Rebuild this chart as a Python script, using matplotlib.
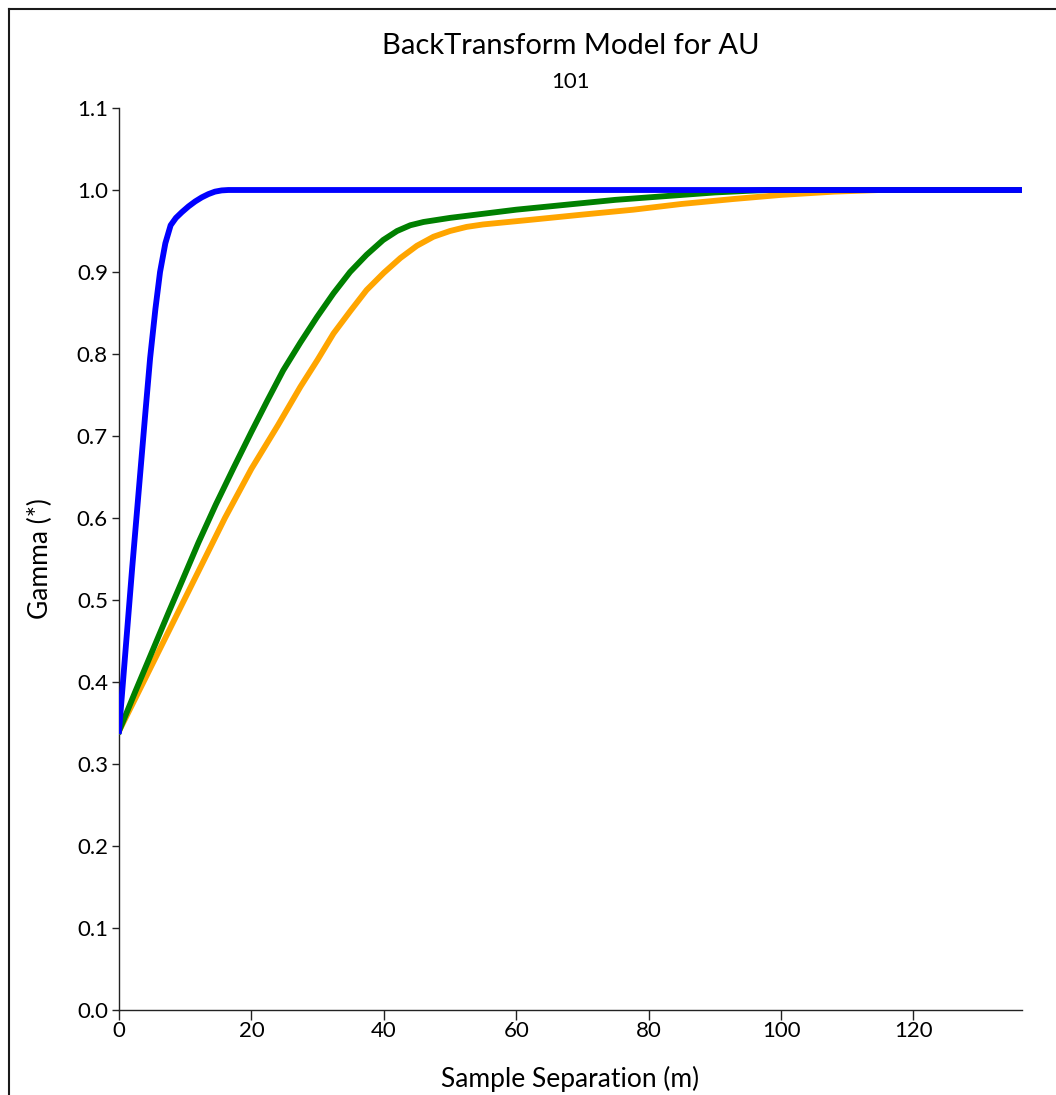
import matplotlib
matplotlib.use("Agg")
import matplotlib.pyplot as plt
from matplotlib.lines import Line2D

plt.rcParams["font.family"] = ["Lato", "DejaVu Sans"]

# Model curves: lag distance (m) vs. back-transformed gamma
blue_x = [0, 1, 2, 3, 4, 4.7, 5.5, 6.2, 7, 7.8, 8.6, 9.5, 10.5, 11.5, 12.5,
          13.5, 14.5, 15.5, 16.5, 136.4]
blue_y = [0.34, 0.44, 0.54, 0.635, 0.73, 0.795, 0.855, 0.90, 0.935, 0.957,
          0.966, 0.973, 0.980, 0.986, 0.991, 0.995, 0.998, 0.9995, 1.0, 1.0]

green_x = [0, 2.5, 5, 7.5, 9.57, 12, 14.6, 17.3, 20, 22.4, 24.8, 27.4, 29.9,
           32.4, 34.9, 37.4, 39.9, 42, 44, 46, 50, 55, 60, 65, 70, 75, 80, 85,
           90, 95, 98, 136.4]
green_y = [0.34, 0.389, 0.437, 0.485, 0.524, 0.570, 0.616, 0.661, 0.705, 0.743,
           0.780, 0.814, 0.845, 0.874, 0.900, 0.921, 0.939, 0.950, 0.957, 0.961,
           0.966, 0.971, 0.976, 0.980, 0.984, 0.988, 0.991, 0.994, 0.997, 0.999,
           1.0, 1.0]

orange_x = [0, 4, 8, 12, 16, 20, 24, 27.4, 30, 32.4, 35, 37.4, 40, 42.5, 45,
            47.5, 50, 52.5, 55, 62.6, 70, 77.7, 85, 92.8, 100, 108, 115, 136.4]
orange_y = [0.34, 0.405, 0.47, 0.535, 0.600, 0.660, 0.713, 0.760, 0.793, 0.825,
            0.853, 0.878, 0.899, 0.917, 0.932, 0.943, 0.950, 0.955, 0.958, 0.964,
            0.970, 0.976, 0.983, 0.989, 0.994, 0.998, 1.0, 1.0]

x_ticks = [0, 20, 40, 60, 80, 100, 120]
y_ticks = [0.0, 0.1, 0.2, 0.3, 0.4, 0.5, 0.6, 0.7, 0.8, 0.9, 1.0, 1.1]

fig = plt.figure(figsize=(10.56, 10.95), dpi=100)
ax = fig.add_axes([119 / 1056, 1 - 1010 / 1095, (1022 - 119) / 1056, (1010 - 108) / 1095])

lw = 4.2
ax.plot(orange_x, orange_y, color="orange", lw=lw, solid_joinstyle="round", zorder=3)
ax.plot(green_x, green_y, color="green", lw=lw, solid_joinstyle="round", zorder=4)
ax.plot(blue_x, blue_y, color="blue", lw=lw, solid_joinstyle="round", zorder=5)

ax.set_xlim(0, 136.4)
ax.set_ylim(0, 1.1)
ax.set_xticks(x_ticks)
ax.set_yticks(y_ticks)
ax.set_yticklabels([f"{v:.1f}" for v in y_ticks])

for side in ("top", "right"):
    ax.spines[side].set_visible(False)
for side in ("left", "bottom"):
    ax.spines[side].set_color("#222222")
    ax.spines[side].set_linewidth(1.0)
ax.tick_params(axis="y", direction="out", length=5, width=1, color="#222222",
               labelsize=16, pad=3)
ax.tick_params(axis="x", direction="out", length=7, width=1, color="#222222",
               labelsize=16, pad=1)

ax.set_xlabel("Sample Separation (m)", fontsize=19, labelpad=18)
ax.set_ylabel("Gamma (*)", fontsize=19, labelpad=17)

fig.text(0.5405, 1 - 46 / 1095, "BackTransform Model for AU", ha="center",
         va="center", fontsize=21)
fig.text(0.5405, 1 - 82 / 1095, "101", ha="center", va="center", fontsize=16)

# Outer frame (left and top edges)
fx = 8.5 / 1056
fy = 1 - 8.5 / 1095
fig.add_artist(Line2D([fx, fx], [0, fy], transform=fig.transFigure,
                      color="#1a1a1a", lw=1.5))
fig.add_artist(Line2D([fx, 1], [fy, fy], transform=fig.transFigure,
                      color="#1a1a1a", lw=1.5))

fig.savefig("out.png", dpi=100, facecolor="white")
